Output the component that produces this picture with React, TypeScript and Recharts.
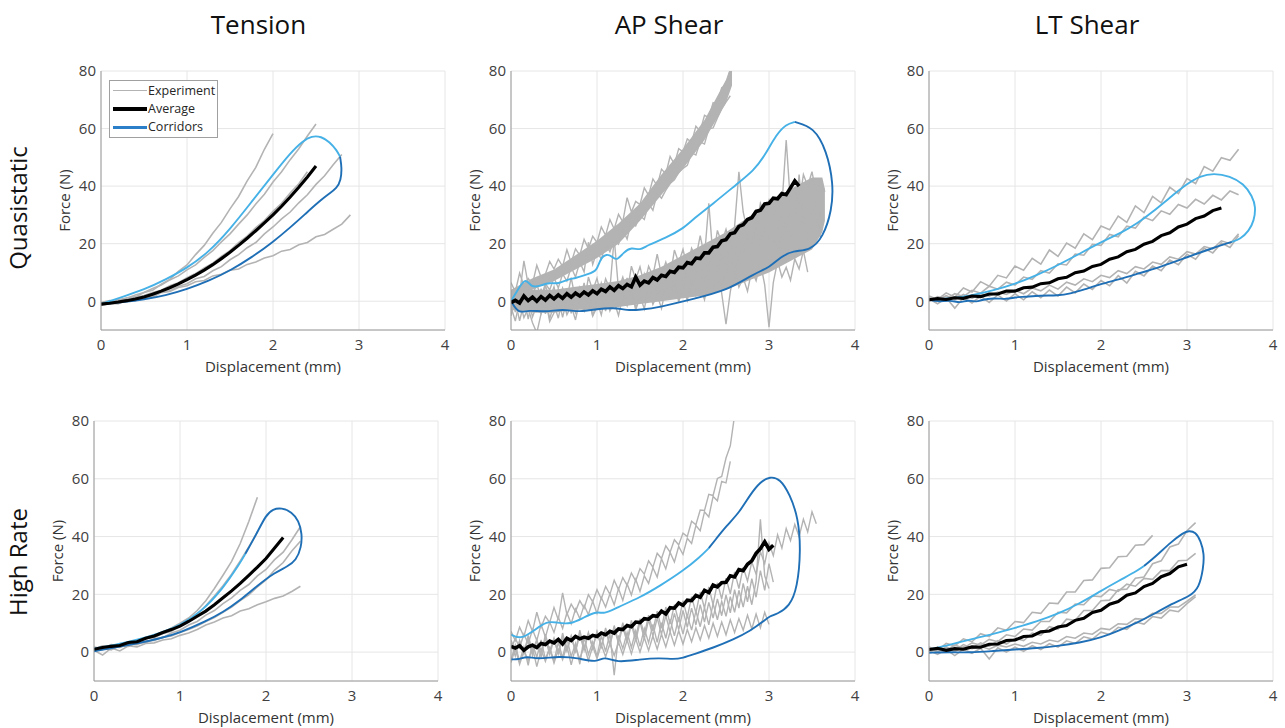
import React from 'react';
import { ComposedChart, Line, Area, XAxis, YAxis, CartesianGrid } from 'recharts';

const FONT = '"Open Sans", "Noto Sans", sans-serif';
const GRAY = '#b3b3b3';
const LIGHT = '#45b1e6';
const DARK = '#1f6fb6';

// shared displacement grids (mm)
const X_C = [0, 0.1, 0.2, 0.3, 0.4, 0.5, 0.6, 0.7, 0.8, 0.9,
  1, 1.1, 1.2, 1.3, 1.4, 1.5, 1.6, 1.7, 1.8, 1.9,
  2, 2.1, 2.2, 2.3, 2.4, 2.5, 2.6, 2.7, 2.8, 2.9,
  3, 3.1, 3.2, 3.3, 3.4, 3.5, 3.6, 3.7];
const X_F = [0, 0.05, 0.1, 0.15, 0.2, 0.25, 0.3, 0.35, 0.4, 0.45,
  0.5, 0.55, 0.6, 0.65, 0.7, 0.75, 0.8, 0.85, 0.9, 0.95,
  1, 1.05, 1.1, 1.15, 1.2, 1.25, 1.3, 1.35, 1.4, 1.45,
  1.5, 1.55, 1.6, 1.65, 1.7, 1.75, 1.8, 1.85, 1.9, 1.95,
  2, 2.05, 2.1, 2.15, 2.2, 2.25, 2.3, 2.35, 2.4, 2.45,
  2.5, 2.55, 2.6, 2.65, 2.7, 2.75, 2.8, 2.85, 2.9, 2.95,
  3, 3.05, 3.1, 3.15, 3.2, 3.25, 3.3, 3.35, 3.4, 3.45,
  3.5, 3.55, 3.6, 3.65, 3.7];

const X_TICKS = [0, 1, 2, 3, 4];
const Y_TICKS = [0, 20, 40, 60, 80];

// ---- Tension, quasistatic (force in N on X_C) ----
const TQ_E1 = [-0.5, 0.2, 0.1, 1.2, 1.5, 3.0, 3.8, 5.9, 7.6, 10.4,
  12.6, 16.2, 19.4, 23.6, 27.4, 32.1, 36.4, 41.8, 46.5, 52.8, 58.2];
const TQ_E2 = [-1.0, -0.4, 0.6, 1.0, 2.2, 3.0, 4.4, 5.6, 7.4, 8.8,
  10.9, 12.6, 15.2, 17.6, 20.6, 23.4, 26.8, 30.0, 33.8, 37.2,
  41.4, 45.0, 49.2, 53.0, 57.4, 61.6];
const TQ_E3 = [-1.5, -0.8, -0.9, 0.2, 0.3, 1.6, 1.8, 3.2, 3.6, 5.2,
  6.1, 7.8, 8.6, 10.6, 12.0, 14.4, 16.2, 18.6, 20.4, 23.4,
  25.8, 28.6, 31.0, 34.2, 37.0, 40.6, 43.6, 47.4, 51.0];
const TQ_E4 = [-1.2, -0.4, -0.8, 0.4, 0.2, 1.6, 1.4, 3.0, 3.4, 4.8,
  5.4, 6.8, 7.2, 8.8, 9.4, 10.8, 11.2, 12.8, 13.6, 15.0,
  15.8, 17.4, 18.0, 19.6, 20.4, 22.4, 23.2, 25.0, 26.8, 30.0];
const TQ_E5 = [-0.6, -0.2, 0.4, 0.6, 1.4, 2.0, 3.0, 3.8, 5.4, 6.4,
  8.2, 9.6, 11.6, 13.2, 15.6, 17.6, 20.4, 22.6, 25.6, 28.0,
  31.2, 34.0, 37.6, 40.8, 45.0];
const TQ_AVG = [-1.0, -0.7, -0.3, 0.2, 0.8, 1.5, 2.4, 3.5, 4.7, 6.0,
  7.5, 9.1, 10.8, 12.7, 14.8, 17.0, 19.4, 21.9, 24.5, 27.2,
  30.0, 33.0, 36.2, 39.6, 43.2, 47.0];
const TQ_UP = [[0, -1], [0.25, 1.5], [0.5, 4], [0.75, 7.5], [1, 11.5], [1.25, 17], [1.5, 25], [1.75, 34.5],
  [2, 44], [2.2, 51.5], [2.35, 55.8], [2.45, 57.4], [2.56, 57.3], [2.66, 55.3], [2.74, 52.5], [2.78, 50.2]];
const TQ_LO = [[2.78, 50.2], [2.8, 46.5], [2.79, 42], [2.74, 39.2], [2.65, 37.3], [2.55, 35], [2.4, 31],
  [2.2, 25.6], [2, 20.6], [1.75, 15.2], [1.5, 10.6], [1.25, 7], [1, 4.2], [0.75, 2], [0.5, 0.6],
  [0.25, -0.3], [0, -1]];

// ---- AP shear, quasistatic (X_F) ----
const AQ_S1 = [6.5, 3.2, 9.8, 5.4, 7.9, 6.0, 12.5, 8.3, 9.4, 13.8,
  11.2, 14.6, 12.1, 17.9, 13.4, 18.2, 16.0, 21.5, 18.3, 22.6,
  20.4, 25.8, 22.9, 28.4, 25.1, 30.2, 27.6, 36.0, 31.0, 34.7,
  33.6, 39.4, 36.8, 42.5, 40.1, 45.9, 44.2, 50.3, 47.6, 53.0,
  51.9, 56.4, 55.2, 60.8, 59.1, 64.6, 63.8, 69.0, 68.4, 74.2,
  75.0, 80.5, 84.0];
const AQ_S2 = [-1.5, 1.8, -0.4, 3.6, 0.9, 2.2, 5.8, 1.4, 6.1, 3.9,
  8.2, 4.6, 9.5, 7.0, 11.8, 8.4, 13.6, 10.2, 20.5, 12.8,
  17.4, 14.6, 19.8, 17.2, 21.4, 19.8, 24.9, 21.6, 28.0, 26.2,
  29.8, 28.4, 33.9, 31.6, 37.4, 35.8, 38.6, 40.9, 42.2, 44.8,
  46.1, 47.2, 51.6, 50.8, 55.4, 54.6, 59.9, 60.2, 63.7, 66.8,
  69.2, 71.4];
const AQ_D1 = [3.0, -3.8, 2.4, 14.0, 5.8, -2.0, 2.2, -3.6, 5.6, 0.8,
  5.0, -1.7, 4.6, 0.9, 8.2, 0.5, 4.8, -0.9, 8.4, 3.7,
  8.0, 1.4, 7.8, 4.2, 22.0, 4.0, 8.4, 2.8, 12.2, 7.6,
  12.0, 5.6, 12.2, 8.8, 16.4, 9.0, 13.6, 8.2, 17.8, 13.4,
  18.0, 11.7, 18.4, 15.1, 22.8, 15.5, 34.0, 14.9, 24.6, 20.3,
  25.0, 19.0, 26.0, 45.0, 31.0, 24.0, 29.0, 24.0, 34.0, 30.0,
  35.0, 29.0, 36.0, 33.0, 56.0, 34.0, 39.0, 34.0, 44.0, 40.0,
  45.0, 37.0, 42.0, 38.0];
const AQ_D2 = [-5.0, 2.2, -2.6, 1.6, -6.2, 1.0, -2.8, 4.4, -4.4, 0.8,
  -3.0, 4.2, -0.6, 3.6, -4.2, 3.0, -0.8, 6.4, -2.4, 2.8,
  -1.0, 6.3, 1.6, 5.9, -1.8, 5.5, 1.8, 8.1, -0.4, 5.7,
  2.0, 9.5, 5.0, 9.5, 2.0, 9.5, 5.0, 13.0, 6.0, 10.5,
  7.0, 14.6, 10.2, 14.8, 7.4, 15.0, 10.6, 18.2, 10.8, 16.4,
  13.0, 20.9, 16.8, 21.7, 15.6, 22.5, 19.4, 27.3, 19.2, 25.1,
  22.0, 29.8, 25.6, 30.4, 24.2, 31.0, 26.8, 44.0, 26.4, 33.2,
  30.0, 35.0, 29.0];
const AQ_D3 = [-2.0, -6.9, 0.2, -5.7, -2.6, -7.5, -11.0, -4.3, 1.8, -6.1,
  -1.0, -5.9, 1.2, -4.7, -1.6, -6.5, 0.6, -3.3, 2.8, -5.1,
  0.0, -4.8, 2.4, -3.4, -0.2, -5.0, 1.8, -1.6, 5.4, -3.2,
  2.0, -2.7, 4.6, -1.1, 2.2, -2.5, 4.8, 1.1, 7.4, -0.3,
  5.0, 0.3, 7.6, 1.9, 5.2, 0.5, 7.8, 4.1, 10.4, 2.7,
  -8.0, 3.3, 10.6, 4.9, 8.2, 3.5, 10.8, 7.1, 13.4, 5.7,
  -9.0, 6.5, 13.9, 8.4, 11.8, 7.3, 14.7, 11.2, 17.6, 10.1];
const AQ_D4 = [-5.0, 0.1, -6.8, -0.7, 1.4, -5.5, -1.4, -4.3, 0.8, -7.1,
  -4.0, 1.2, -5.6, 0.6, 2.8, -4.0, -0.8, -3.4, 1.4, -5.2,
  -2.0, 3.3, -3.4, 2.9, 5.2, -1.5, 2.8, 0.1, 5.4, -2.3,
  1.0, 6.4, -0.2, 5.2, 7.6, 1.0, 5.4, 3.8, 9.2, 1.6,
  5.0, 10.5, 4.0, 10.5, 13.0, 7.5, 11.0, 9.5, 14.0, 6.5,
  10.0, 15.7, 9.4, 16.1, 18.8, 12.5, 17.2, 30.0, 20.6, 13.3,
  17.0, 22.9, 16.8, 23.7, 27.6, 20.5, 25.4, 24.3, 29.2, 22.1,
  26.0, 30.0, 22.0];
const AQ_AVG = [-0.5, 0.3, -0.6, 1.8, 0.2, 1.4, 0.0, 1.6, 0.4, 2.0,
  0.8, 2.2, 1.0, 2.6, 1.4, 2.8, 1.8, 3.2, 2.2, 3.6,
  2.6, 4.2, 3.4, 5.0, 3.8, 5.4, 4.4, 5.8, 5.0, 8.4,
  5.6, 7.0, 6.4, 8.2, 7.4, 9.0, 8.6, 10.4, 10.0, 11.8,
  11.6, 13.4, 13.0, 15.0, 14.8, 16.8, 16.8, 18.8, 19.0, 21.0,
  21.4, 23.4, 23.8, 26.0, 26.6, 28.4, 29.0, 31.2, 31.6, 33.8,
  34.0, 35.8, 35.6, 37.4, 37.0, 39.4, 41.8, 40.0];
// dense cores of the overlapping traces: [x, low, high]
const AQ_CORE_STEEP = [[0, 1, 4], [0.25, 4, 8], [0.5, 7, 11], [0.75, 11, 16], [1, 15, 21], [1.25, 20, 27],
  [1.5, 28, 34], [1.75, 37, 44], [2, 46, 53], [2.25, 56, 63], [2.5, 69, 77], [2.57, 75, 83]];
const AQ_CORE_LOW = [[0, -3, 3], [0.25, -4, 4], [0.5, -4, 4], [0.75, -3, 5], [1, -3, 6], [1.25, -2, 7],
  [1.5, -1, 9], [1.75, 0, 12], [2, 1, 16], [2.25, 2, 20], [2.5, 4, 24], [2.75, 7, 29], [3, 10, 34],
  [3.25, 14, 39], [3.5, 18, 43], [3.62, 24, 43], [3.65, 28, 39]];
const AQ_UP = [[0, 0], [0.08, 4], [0.17, 8.4], [0.24, 4.5], [0.35, 5.5], [0.45, 6.5], [0.55, 6], [0.65, 7.5],
  [0.75, 8], [0.9, 9.5], [1, 10.5], [1.04, 15], [1.11, 16.5], [1.18, 15.5], [1.23, 14], [1.31, 17],
  [1.4, 18.8], [1.5, 17.6], [1.58, 19.4], [1.8, 22], [2, 25.2], [2.12, 28.6], [2.35, 33.9], [2.63, 40.8],
  [2.82, 45.4], [2.94, 50], [3.09, 58.2], [3.2, 61.5], [3.3, 62.3]];
const AQ_LO = [[3.3, 62.3], [3.52, 60.5], [3.67, 52.4], [3.75, 40.8], [3.73, 31.5], [3.63, 22.3], [3.48, 17.6],
  [3.28, 17.6], [3.13, 15.3], [3.01, 11.8], [2.82, 9.5], [2.51, 3.7], [2.12, 0.8], [1.73, -2.1], [1.5, -3],
  [1.35, -3.2], [1.2, -2.2], [1, -2.7], [0.8, -3.8], [0.6, -2.7], [0.4, -3.8], [0.2, -3], [0.09, -4.4], [0, 0]];

// ---- LT shear, quasistatic (X_C) ----
const LQ_E1 = [1.8, 0.6, 2.9, 1.4, 4.6, 3.2, 6.8, 5.2, 9.0, 8.1,
  12.2, 10.8, 14.9, 12.9, 17.8, 15.6, 20.2, 18.4, 23.4, 21.4,
  26.1, 24.8, 29.6, 27.4, 33.1, 30.8, 36.4, 34.2, 39.6, 37.4,
  42.6, 40.9, 46.8, 45.2, 49.9, 49.0, 52.8];
const LQ_E2 = [0.0, 1.6, 0.7, 2.6, 1.6, 3.8, 2.8, 5.2, 4.2, 6.6,
  5.6, 8.4, 7.6, 10.6, 9.8, 13.0, 12.6, 16.4, 16.0, 19.8,
  19.4, 23.2, 22.4, 26.1, 25.4, 29.2, 28.0, 31.4, 30.2, 33.6,
  32.4, 35.4, 33.8, 36.8, 35.2, 38.3, 37.0];
const LQ_E3 = [0.8, -0.9, 1.2, -2.4, 1.3, -0.6, 1.8, -0.4, 2.2, 0.1,
  2.6, 0.5, 3.3, 1.2, 3.9, 1.8, 4.9, 2.9, 6.0, 4.1,
  7.2, 5.4, 8.9, 6.3, 10.4, 8.8, 12.2, 10.6, 14.3, 12.7,
  16.3, 14.6, 18.4, 16.8, 20.2, 18.7, 22.8];
const LQ_E4 = [1.2, 0.4, 1.9, 0.6, 2.4, 1.0, 2.6, 1.8, 3.2, 2.4,
  3.8, 2.6, 4.6, 3.6, 5.6, 4.2, 6.6, 5.6, 7.8, 6.8,
  9.0, 8.2, 10.6, 9.6, 12.0, 11.2, 13.6, 12.8, 15.4, 14.6,
  17.2, 16.4, 19.0, 18.2, 21.0, 20.0, 23.4];
const LQ_AVG = [0.5, 0.9, 0.6, 1.2, 1.0, 1.8, 1.6, 2.5, 2.5, 3.5,
  3.5, 4.7, 4.9, 6.1, 6.4, 7.8, 8.3, 9.9, 10.5, 12.1,
  12.8, 14.6, 15.4, 17.2, 18.0, 19.8, 20.8, 22.8, 23.8, 25.8,
  26.8, 28.7, 29.6, 31.5, 32.4];
const LQ_UP = [[0, 0.5], [0.25, 1], [0.5, 2], [0.75, 3.8], [1, 6], [1.25, 9], [1.5, 12.5], [1.75, 16.5],
  [2, 20.5], [2.25, 24], [2.42, 27], [2.6, 31], [2.8, 36], [3, 40.8], [3.15, 43.5], [3.31, 44.5],
  [3.5, 43.5], [3.66, 40.8], [3.76, 36.5], [3.8, 32.7], [3.78, 28], [3.72, 24.4], [3.62, 21.6], [3.52, 20.6]];
const LQ_LO = [[3.52, 20.6], [3.3, 18.5], [3, 15.3], [2.7, 12], [2.42, 9.5], [2.2, 7.5], [2, 6], [1.8, 4],
  [1.64, 2.6], [1.5, 2], [1.3, 2], [1.1, 1.5], [1, 1.4], [0.9, 0.6], [0.75, 1.2], [0.6, 0.4], [0.56, -0.3],
  [0.45, 0.5], [0.36, -0.7], [0.25, 0.4], [0.1, -0.2], [0, 0.5]];

// ---- Tension, high rate (X_C) ----
const TH_E1 = [1.0, 2.2, 1.6, 3.0, 2.8, 4.2, 4.4, 5.8, 6.6, 8.4,
  10.0, 11.8, 14.4, 17.8, 22.0, 26.6, 31.4, 37.6, 45.2, 53.6];
const TH_E2 = [1.8, 1.2, 2.6, 2.2, 3.6, 3.4, 4.8, 5.0, 6.4, 7.2,
  9.0, 10.8, 13.2, 16.0, 19.4, 23.0, 27.0, 31.6, 36.4, 41.6];
const TH_E3 = [0.4, 1.4, 0.8, 2.4, 2.0, 3.4, 3.2, 4.6, 5.0, 6.6,
  7.6, 9.4, 10.6, 12.8, 14.4, 16.8, 18.8, 21.4, 23.4, 26.4,
  28.6, 32.0, 34.6, 38.8, 43.4];
const TH_E4 = [1.2, 0.8, 2.0, 1.6, 2.8, 2.6, 3.8, 4.0, 5.2, 5.6,
  6.8, 7.8, 9.0, 10.6, 12.0, 13.8, 15.6, 17.8, 19.8, 22.6,
  25.0, 28.4, 31.0, 35.0, 38.4];
const TH_E5 = [0.6, -1.0, 1.4, 0.4, 2.2, 1.8, 3.0, 3.2, 4.2, 4.6,
  5.8, 6.6, 7.8, 9.4, 10.4, 11.8, 12.6, 14.2, 15.0, 16.4,
  17.4, 18.6, 19.4, 21.0, 22.8];
const TH_AVG = [1.0, 1.6, 2.0, 2.3, 3.3, 3.6, 4.8, 5.6, 6.8, 7.8,
  9.0, 10.6, 12.4, 14.2, 16.4, 18.8, 21.2, 23.8, 26.6, 29.4,
  32.4, 36.0, 39.7];
const TH_UP = [[0, 1.2], [0.25, 2.5], [0.5, 4.2], [0.75, 6.4], [1, 9.2], [1.25, 14], [1.5, 22], [1.69, 30.4], [1.76, 34]];
const TH_LO = [[1.76, 34], [1.89, 40.9], [2, 47.5], [2.08, 49.5], [2.18, 50], [2.3, 48.5], [2.38, 45.5], [2.42, 41],
  [2.41, 36.2], [2.35, 31.8], [2.25, 29.6], [2.1, 27.5], [1.9, 23], [1.69, 17.7], [1.5, 13.8], [1.31, 10.8],
  [1, 6.7], [0.75, 4.6], [0.53, 3.2], [0.25, 1.6], [0, 0.3]];

// ---- AP shear, high rate (X_F) ----
const AH_S1 = [7.2, 4.0, 8.6, 5.4, 10.9, 7.2, 13.8, 8.6, 12.4, 10.2,
  15.4, 11.2, 20.5, 13.0, 16.6, 14.1, 17.8, 15.2, 19.9, 17.4,
  21.6, 18.4, 22.7, 20.0, 24.9, 21.6, 25.8, 23.1, 27.4, 24.6,
  28.9, 27.0, 31.6, 29.4, 34.2, 32.4, 36.8, 34.6, 38.9, 37.1,
  41.2, 40.0, 45.3, 44.1, 49.2, 49.0, 54.6, 54.2, 60.1, 60.8,
  67.2, 71.4, 82.0];
const AH_S2 = [1.0, 4.8, 1.6, 6.2, 2.9, 7.8, 4.0, 9.6, 5.2, 10.4,
  6.8, 12.1, 8.2, 13.6, 9.8, 14.9, 11.6, 16.2, 13.0, 17.6,
  13.4, 18.9, 15.6, 20.2, 16.4, 22.0, 17.9, 23.6, 19.8, 25.2,
  21.0, 26.4, 23.8, 29.2, 26.0, 32.3, 28.8, 34.5, 31.2, 36.6,
  33.8, 39.4, 37.6, 43.8, 42.0, 48.6, 46.8, 53.9, 52.4, 59.1,
  58.6, 66.0];
const AH_M1 = [3.2, -1.4, 4.0, -0.6, 5.8, 0.2, 4.4, -1.8, 6.2, 0.4,
  4.8, -0.6, 6.6, 0.8, 5.4, 0.2, 7.6, 1.0, 6.8, 1.4,
  7.2, 2.0, 8.4, 2.6, 9.2, 3.6, 10.2, 4.0, 11.0, 5.2,
  11.6, 6.0, 12.8, 7.4, 14.2, 8.2, 15.6, 9.8, 16.4, 10.6,
  17.8, 12.0, 19.2, 13.6, 20.8, 15.2, 22.6, 16.4, 24.0, 18.4,
  25.6, 20.2, 27.8, 22.0, 29.4, 24.6, 31.2, 27.0, 34.8, 30.6,
  37.8, 33.4, 40.6, 36.0, 42.8, 38.6, 44.2, 40.0, 46.0, 41.6,
  48.6, 44.4];
const AH_M2 = [-2.6, 2.4, -3.2, 1.8, -4.6, 3.1, -1.8, 4.2, -2.4, 1.5,
  -3.1, 3.4, -2.0, 4.8, -1.6, 3.0, -4.2, 5.2, -0.8, 3.6,
  -1.4, 5.6, 0.2, 6.4, -8.0, 5.8, 1.2, 6.8, 1.6, 7.4,
  2.0, 8.2, 3.2, 9.6, 3.4, 10.2, 4.8, 11.4, 5.6, 12.0,
  6.2, 12.8, 7.6, 14.2, 8.8, 15.4, 9.4, 16.8, 11.2, 17.6,
  12.4, 19.2, 13.8, 21.4, 15.6, 22.8, 16.4, 24.6, 46.0, 26.4,
  22.0];
const AH_M3 = [4.2, 0.4, 3.6, -0.2, 4.8, -1.2, 3.8, 0.6, 4.6, -0.8,
  4.4, -0.6, 5.2, 0.4, 5.6, 0.2, 6.0, 0.6, 6.4, 1.2,
  7.0, 1.8, 7.6, 2.4, 8.2, 3.0, 8.8, 3.4, 9.6, 3.8,
  10.4, 4.6, 11.2, 5.6, 11.8, 6.2, 12.6, 7.0, 13.4, 7.8,
  14.4, 8.6, 15.2, 9.4, 16.4, 10.4, 17.2, 11.8, 18.4, 12.6,
  19.8, 13.6, 21.6, 15.2, 23.8, 17.4, 25.4, 19.0, 28.2, 21.4,
  30.6, 24.2];
const AH_M4 = [-3.6, 1.2, -4.2, 0.4, -2.8, 1.6, -5.0, 0.8, -3.2, 1.4,
  -3.8, 1.0, -2.6, 2.2, -4.4, 1.6, -2.4, 2.4, -3.0, 2.0,
  -2.2, 2.6, -1.6, 3.0, -1.2, 3.4, -0.8, 4.2, -0.6, 4.6,
  0.0, 5.0, 0.6, 5.6, 1.0, 6.2, 1.8, 7.0, 2.4, 7.4,
  2.8, 7.8, 3.6, 8.4, 4.2, 9.2, 4.8, 10.0, 5.4, 10.4,
  6.0, 11.2, 6.8, 11.6, 7.6, 12.8, 8.0, 13.2, 8.4, 13.8,
  9.6];
const AH_AVG = [2.0, 1.4, 2.2, 0.6, 1.8, 2.4, 1.6, 3.0, 2.6, 3.8,
  3.2, 4.4, 2.8, 4.8, 4.0, 5.4, 4.6, 5.2, 4.8, 5.8,
  5.4, 6.6, 6.0, 7.2, 6.6, 8.0, 7.8, 9.2, 8.8, 10.4,
  10.2, 11.6, 11.4, 12.6, 12.4, 14.2, 13.2, 15.4, 15.2, 17.0,
  16.2, 18.0, 17.8, 19.6, 19.0, 21.4, 20.6, 23.2, 22.6, 24.0,
  24.2, 26.4, 26.0, 28.6, 28.2, 30.4, 31.6, 34.2, 35.8, 38.2,
  35.6, 37.0];
const AH_UP = [[0, 6.1], [0.11, 4.4], [0.26, 7.3], [0.42, 10.8], [0.53, 10.2], [0.69, 9.6], [0.84, 11.9],
  [1, 14.2], [1.08, 13.1], [1.23, 15.4], [1.5, 18.9], [1.73, 22.9], [2, 28.1], [2.2, 33], [2.3, 36]];
const AH_LO = [[2.3, 36], [2.38, 39], [2.5, 43.5], [2.66, 48.5], [2.78, 54.5], [2.9, 59], [3.01, 60.8],
  [3.13, 60], [3.24, 54.7], [3.34, 46.6], [3.37, 35.1], [3.33, 22.3], [3.24, 15.8], [3.09, 13.1],
  [3.01, 12.5], [2.94, 10.8], [2.78, 7.3], [2.59, 4.4], [2.35, 1.5], [2.12, -0.8], [2, -2], [1.89, -2.5],
  [1.73, -2], [1.5, -2.5], [1.23, -3.7], [1.08, -1.4], [1, -3.7], [0.77, -2], [0.57, -1.4], [0.3, -2.5],
  [0.19, -1.4], [0.08, -2.6], [0, -2.5]];

// ---- LT shear, high rate (X_C) ----
const LH_E1 = [1.8, 0.6, 3.0, 2.2, 4.6, 3.6, 6.4, 5.4, 8.4, 7.6,
  10.6, 10.2, 13.8, 13.4, 17.0, 16.8, 20.8, 20.8, 24.8, 25.0,
  29.0, 29.2, 33.0, 33.2, 37.0, 37.2, 40.4];
const LH_E2 = [1.2, 0.0, 1.8, 0.6, 2.6, 1.4, 3.2, 2.0, 4.0, 2.8,
  4.8, 4.0, 6.6, 5.8, 8.8, 8.0, 11.4, 11.0, 14.4, 14.4,
  17.8, 18.0, 21.6, 21.8, 25.6, 26.0, 30.6, 31.6, 36.4, 37.4,
  42.0, 44.8];
const LH_E3 = [0.0, 1.6, 0.6, 2.4, 1.4, 3.2, 2.4, 4.4, 3.6, 6.0,
  5.4, 8.0, 7.6, 10.6, 10.6, 13.8, 13.6, 16.6, 16.4, 19.4,
  19.2, 21.7, 21.0, 23.5, 22.8, 25.5, 25.2, 28.2, 28.2, 31.6,
  31.8, 34.2];
const LH_E4 = [0.6, -0.8, 0.9, -1.2, 1.0, -0.4, 1.3, -2.4, 1.5, 0.0,
  1.7, 0.3, 2.2, 0.9, 2.9, 1.7, 3.9, 3.0, 5.3, 4.5,
  6.9, 6.1, 8.6, 7.9, 10.4, 9.7, 12.3, 11.8, 14.5, 14.0,
  16.8, 19.2];
const LH_E5 = [1.2, 0.4, 1.6, 0.2, 1.8, 1.2, 2.0, 1.0, 2.4, 1.8,
  2.8, 2.0, 3.4, 2.8, 4.2, 3.6, 5.4, 4.8, 6.6, 6.2,
  8.2, 7.8, 9.8, 9.6, 11.6, 11.4, 13.4, 13.4, 15.6, 15.6,
  17.6, 19.8];
const LH_AVG = [0.9, 1.3, 0.6, 1.2, 1.0, 1.8, 1.7, 2.7, 2.8, 4.0,
  4.2, 5.4, 5.6, 7.0, 7.3, 8.7, 9.2, 11.0, 11.7, 13.7,
  14.5, 16.6, 17.5, 19.7, 20.5, 22.7, 23.8, 26.1, 27.2, 29.5,
  30.4];
const LH_UP = [[0, 0.9], [0.25, 2.6], [0.48, 4.4], [0.75, 6.3], [1, 8.4], [1.25, 10.6], [1.49, 13.1],
  [1.75, 16.8], [2, 21.2], [2.2, 24.6], [2.42, 28.1], [2.5, 29.8]];
const LH_LO = [[2.5, 29.8], [2.65, 33.5], [2.81, 38], [2.96, 41.4], [3.02, 42], [3.1, 41.6], [3.16, 38.5],
  [3.2, 34], [3.19, 29], [3.14, 22.3], [3.04, 19.4], [2.81, 16.6], [2.62, 13.2], [2.42, 10.2], [2.2, 7.4],
  [2, 5], [1.75, 3.2], [1.49, 2.1], [1.25, 1.4], [1, 0.9], [0.75, 0.4], [0.48, -0.2], [0.25, 0], [0, -0.2]];

const onGrid = (xs: number[], ys: number[]) => ys.map((y, i) => ({ x: xs[i], y }));
const fromPairs = (p: number[][]) => p.map(([x, y]) => ({ x, y }));
const fromRange = (p: number[][]) => p.map(([x, lo, hi]) => ({ x, band: [lo, hi] }));

type Panel = {
  id: string;
  left: number;
  top: number;
  h: number;
  fine: boolean;
  cores?: number[][][];
  exps: number[][];
  avg: number[];
  up: number[][];
  lo: number[][];
};

const PANELS: Panel[] = [
  { id: 'tq', left: 101, top: 71, h: 259, fine: false, exps: [TQ_E1, TQ_E2, TQ_E3, TQ_E4, TQ_E5], avg: TQ_AVG, up: TQ_UP, lo: TQ_LO },
  { id: 'aq', left: 511, top: 71, h: 259, fine: true, cores: [AQ_CORE_STEEP, AQ_CORE_LOW], exps: [AQ_S1, AQ_S2, AQ_D1, AQ_D2, AQ_D3, AQ_D4], avg: AQ_AVG, up: AQ_UP, lo: AQ_LO },
  { id: 'lq', left: 929, top: 71, h: 259, fine: false, exps: [LQ_E1, LQ_E2, LQ_E3, LQ_E4], avg: LQ_AVG, up: LQ_UP, lo: LQ_LO },
  { id: 'th', left: 94, top: 421, h: 260, fine: false, exps: [TH_E1, TH_E2, TH_E3, TH_E4, TH_E5], avg: TH_AVG, up: TH_UP, lo: TH_LO },
  { id: 'ah', left: 511, top: 421, h: 260, fine: true, exps: [AH_S1, AH_S2, AH_M1, AH_M2, AH_M3, AH_M4], avg: AH_AVG, up: AH_UP, lo: AH_LO },
  { id: 'lh', left: 929, top: 421, h: 260, fine: false, exps: [LH_E1, LH_E2, LH_E3, LH_E4, LH_E5], avg: LH_AVG, up: LH_UP, lo: LH_LO },
];

const PLOT_W = 344;
const Y_AXIS_W = 72;
const X_AXIS_H = 50;

const tickStyle = { fill: '#404040', fontSize: 15, fontFamily: FONT };

const CorridorPanel = ({ p }: { p: Panel }) => {
  const xs = p.fine ? X_F : X_C;
  return (
    <div style={{ position: 'absolute', left: p.left - Y_AXIS_W, top: p.top - 10 }}>
      <ComposedChart
        width={Y_AXIS_W + PLOT_W + 14}
        height={10 + p.h + X_AXIS_H}
        margin={{ top: 10, right: 14, bottom: 0, left: 0 }}
      >
        <CartesianGrid stroke="#e6e6e6" />
        <XAxis
          type="number"
          dataKey="x"
          domain={[0, 4]}
          ticks={X_TICKS}
          allowDataOverflow
          height={X_AXIS_H}
          tickSize={0}
          tickLine={false}
          tickMargin={9}
          axisLine={{ stroke: '#9a9a9a' }}
          tick={tickStyle}
          label={{ value: 'Displacement (mm)', position: 'insideBottom', offset: 8, fill: '#333', fontSize: 15, fontFamily: FONT }}
        />
        <YAxis
          type="number"
          domain={[-10, 80]}
          ticks={Y_TICKS}
          allowDataOverflow
          width={Y_AXIS_W}
          tickSize={0}
          tickLine={false}
          tickMargin={5}
          axisLine={{ stroke: '#9a9a9a' }}
          tick={tickStyle}
          label={{ value: 'Force (N)', angle: -90, position: 'center', fill: '#333', fontSize: 15, fontFamily: FONT }}
        />
        {(p.cores || []).map((c, i) => (
          <Area
            key={`${p.id}-c${i}`}
            data={fromRange(c)}
            dataKey="band"
            type="linear"
            stroke="none"
            fill={GRAY}
            fillOpacity={1}
            isAnimationActive={false}
          />
        ))}
        {p.exps.map((ys, i) => (
          <Line
            key={`${p.id}-e${i}`}
            data={onGrid(xs, ys)}
            dataKey="y"
            type="linear"
            stroke={GRAY}
            strokeWidth={p.fine ? 1.4 : 1.6}
            dot={false}
            isAnimationActive={false}
          />
        ))}
        <Line data={fromPairs(p.up)} dataKey="y" type="basis" stroke={LIGHT} strokeWidth={1.9} dot={false} isAnimationActive={false} />
        <Line data={fromPairs(p.lo)} dataKey="y" type="basis" stroke={DARK} strokeWidth={1.9} dot={false} isAnimationActive={false} />
        <Line data={onGrid(xs, p.avg)} dataKey="y" type="linear" stroke="#000" strokeWidth={p.fine ? 3.6 : 3.1} dot={false} isAnimationActive={false} />
      </ComposedChart>
    </div>
  );
};

const LEGEND = [
  { label: 'Experiment', color: GRAY, width: 1.5 },
  { label: 'Average', color: '#000', width: 4 },
  { label: 'Corridors', color: '#2a7fc8', width: 2.5 },
];

const LegendBox = () => (
  <div
    style={{
      position: 'absolute', left: 109, top: 80, width: 107, height: 56,
      border: '1px solid #a0a0a0', background: '#fff', fontFamily: FONT, fontSize: 12.5, color: '#262626',
    }}
  >
    {LEGEND.map((item, i) => (
      <div key={item.label} style={{ position: 'absolute', left: 3, top: 0.5 + i * 18.4, height: 18, display: 'flex', alignItems: 'center' }}>
        <span style={{ display: 'inline-block', width: 34, height: item.width, background: item.color, marginRight: 1 }} />
        <span style={{ lineHeight: '18px' }}>{item.label}</span>
      </div>
    ))}
  </div>
);

const COLUMN_TITLES = [
  { text: 'Tension', x: 258.5 },
  { text: 'AP Shear', x: 669 },
  { text: 'LT Shear', x: 1087 },
];
const ROW_TITLES = [
  { text: 'Quasistatic', y: 208 },
  { text: 'High Rate', y: 562 },
];

export default function App() {
  return (
    <div style={{ position: 'absolute', left: 0, top: 0, width: 1285, height: 728, background: '#fff', overflow: 'hidden' }}>
      <svg width={1285} height={728} style={{ position: 'absolute', left: 0, top: 0 }}>
        {COLUMN_TITLES.map((t) => (
          <text key={t.text} x={t.x} y={33.5} textAnchor="middle" fontFamily={FONT} fontSize={26} fill="#111">
            {t.text}
          </text>
        ))}
        {ROW_TITLES.map((t) => (
          <text key={t.text} transform={`translate(27, ${t.y}) rotate(-90)`} textAnchor="middle" fontFamily={FONT} fontSize={24} fill="#111">
            {t.text}
          </text>
        ))}
      </svg>
      {PANELS.map((p) => (
        <CorridorPanel key={p.id} p={p} />
      ))}
      <LegendBox />
    </div>
  );
}
